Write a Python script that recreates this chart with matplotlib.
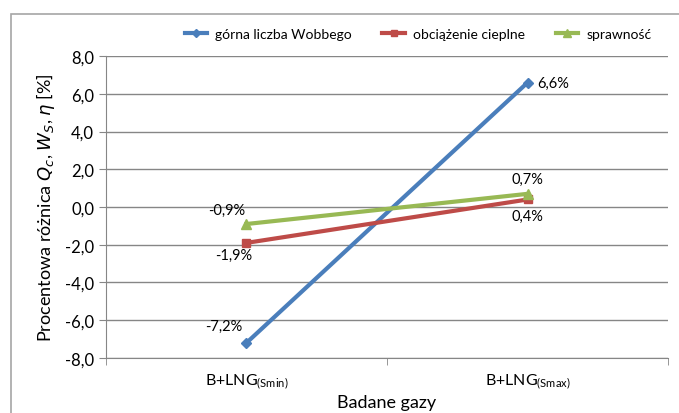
# Procentowa różnica parametrów dla badanych gazów

import matplotlib.pyplot as plt
from matplotlib.patches import Rectangle

plt.rcParams['font.family'] = ['Lato', 'DejaVu Sans']
plt.rcParams['mathtext.fontset'] = 'dejavusans'

gazy = ["B+LNG$_{\\mathregular{(Smin)}}$", "B+LNG$_{\\mathregular{(Smax)}}$"]
wobbe = [-7.2, 6.6]
obciazenie = [-1.9, 0.4]
sprawnosc = [-0.9, 0.7]
nazwy = ["górna liczba Wobbego", "obciążenie cieplne", "sprawność"]

fig = plt.figure(figsize=(6.79, 4.14), dpi=100)
fig.patches.append(Rectangle((11 / 679, -0.1), 1.0, 1.1 - 15 / 414, transform=fig.transFigure,
                             fill=False, edgecolor="#a6a6a6", linewidth=1.2))
ax = fig.add_axes([0.156, 0.133, 0.828, 0.729])

x = [0, 1]
ax.plot(x, wobbe, color="#4a7ebb", lw=3, marker="D", ms=5, label=nazwy[0], zorder=3)
ax.plot(x, obciazenie, color="#be4b48", lw=3, marker="s", ms=6, label=nazwy[1], zorder=3)
ax.plot(x, sprawnosc, color="#98b954", lw=3, marker="^", ms=7, label=nazwy[2], zorder=3)

fs = 10.5
ax.annotate("-7,2%", (x[0], wobbe[0]), xytext=(-3, 12), textcoords="offset points", ha="right", va="center", fontsize=fs)
ax.annotate("6,6%", (x[1], wobbe[1]), xytext=(7, 0), textcoords="offset points", ha="left", va="center", fontsize=fs)
ax.annotate("-1,9%", (x[0], obciazenie[0]), xytext=(-9, -9), textcoords="offset points", ha="center", va="center", fontsize=fs)
ax.annotate("0,4%", (x[1], obciazenie[1]), xytext=(0, -12), textcoords="offset points", ha="center", va="center", fontsize=fs)
ax.annotate("-0,9%", (x[0], sprawnosc[0]), xytext=(-14, 10), textcoords="offset points", ha="center", va="center", fontsize=fs)
ax.annotate("0,7%", (x[1], sprawnosc[1]), xytext=(0, 11), textcoords="offset points", ha="center", va="center", fontsize=fs)

ax.set_xlim(-0.5, 1.5)
ax.set_ylim(-8, 8)
ax.set_yticks(range(-8, 9, 2))
ax.set_yticklabels([f"{v:.1f}".replace(".", ",") for v in range(-8, 9, 2)], fontsize=12)
ax.set_xticks(x)
ax.set_xticklabels(gazy, fontsize=11.5)
ax.set_xticks([-0.5, 0.5, 1.5], minor=True)
ax.tick_params(axis="x", which="major", length=0, pad=10)
ax.tick_params(axis="x", which="minor", length=5, color="#868686")
ax.tick_params(axis="y", length=5, color="#868686")
ax.grid(axis="y", color="#868686", lw=1)
ax.set_axisbelow(True)
for s in ["top", "right"]:
    ax.spines[s].set_visible(False)
for s in ["left", "bottom"]:
    ax.spines[s].set_color("#868686")

ax.set_xlabel("Badane gazy", fontsize=13, labelpad=2)
ax.set_ylabel("Procentowa różnica $Q_c$, $W_S$, $\\eta$ [%]", fontsize=13, labelpad=6)

ax.legend(loc="lower center", bbox_to_anchor=(0.555, 1.035), ncol=3, frameon=False, fontsize=10,
          handlelength=1.6, handletextpad=0.6, columnspacing=2.2, borderaxespad=0, markerscale=0.8)

fig.savefig("out.png", dpi=100)
